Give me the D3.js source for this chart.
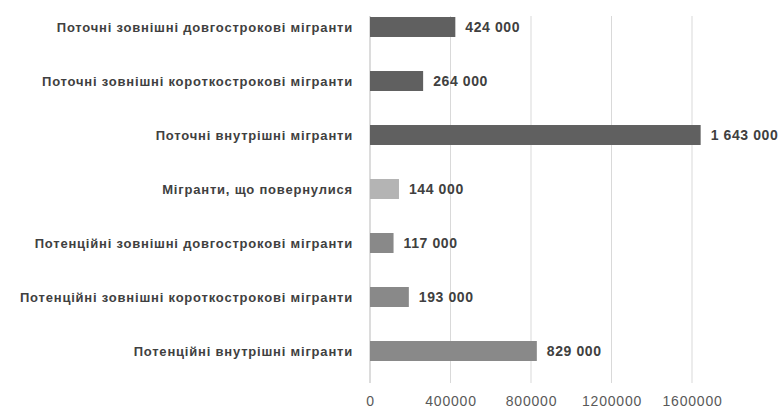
<!DOCTYPE html>
<html>
<head>
<meta charset="utf-8">
<script src="https://cdn.jsdelivr.net/npm/d3@7"></script>
<style>
  html, body { margin: 0; padding: 0; background: #ffffff; }
  #chart-container { width: 781px; height: 408px; overflow: hidden; }
  text { font-family: "Liberation Sans", Arial, sans-serif; }
</style>
</head>
<body>
<div id="chart-container"></div>
<script>
// Categories top to bottom
const categories = [
  "Поточні зовнішні довгострокові мігранти",
  "Поточні зовнішні короткострокові мігранти",
  "Поточні внутрішні мігранти",
  "Мігранти, що повернулися",
  "Потенційні зовнішні довгострокові мігранти",
  "Потенційні зовнішні короткострокові мігранти",
  "Потенційні внутрішні мігранти"
];
const values = [424000, 264000, 1643000, 144000, 117000, 193000, 829000];
const valueLabels = ["424 000", "264 000", "1 643 000", "144 000", "117 000", "193 000", "829 000"];
const groups = ["current", "current", "current", "returned", "potential", "potential", "potential"];
const xTicks = [0, 400000, 800000, 1200000, 1600000];

const colors = { current: "#606060", returned: "#b4b4b4", potential: "#898989" };

function drawChart() {
  d3.select("#chart-container").selectAll("*").remove();

  const W = 781, H = 408;
  const margin = { top: 0, left: 370 };

  const svg = d3.select("#chart-container")
    .append("svg")
    .attr("width", W)
    .attr("height", H);

  // x scale: 0 -> 370px, 400000 per ~80.5px
  const x = d3.scaleLinear()
    .domain([0, 1600000])
    .range([margin.left, margin.left + 322]);

  const y = d3.scaleBand()
    .domain(categories)
    .range([0, 378])
    .paddingInner(0.63)
    .paddingOuter(0.315);

  const gridTop = 16, gridBottom = 383;

  // vertical gridlines
  svg.selectAll(".grid")
    .data(xTicks.slice(1))
    .join("line")
    .attr("x1", d => x(d))
    .attr("x2", d => x(d))
    .attr("y1", gridTop)
    .attr("y2", gridBottom)
    .attr("stroke", "#d9d9d9")
    .attr("stroke-width", 1);

  // value axis line at zero
  svg.append("line")
    .attr("x1", x(0))
    .attr("x2", x(0))
    .attr("y1", gridTop)
    .attr("y2", gridBottom)
    .attr("stroke", "#d0d0d0")
    .attr("stroke-width", 1.5);

  // bars
  svg.selectAll(".bar")
    .data(values)
    .join("rect")
    .attr("x", x(0))
    .attr("y", (d, i) => y(categories[i]))
    .attr("width", d => x(d) - x(0))
    .attr("height", y.bandwidth())
    .attr("fill", (d, i) => colors[groups[i]]);

  // value labels
  svg.selectAll(".val")
    .data(values)
    .join("text")
    .attr("x", d => x(d) + 10)
    .attr("y", (d, i) => y(categories[i]) + y.bandwidth() / 2)
    .attr("dy", "0.35em")
    .attr("font-size", "14px")
    .attr("font-weight", "bold")
    .attr("letter-spacing", "0.6px")
    .attr("fill", "#404040")
    .text((d, i) => valueLabels[i]);

  // category labels
  svg.selectAll(".cat")
    .data(categories)
    .join("text")
    .attr("x", 353)
    .attr("y", d => y(d) + y.bandwidth() / 2)
    .attr("dy", "0.35em")
    .attr("text-anchor", "end")
    .attr("font-size", "13px")
    .attr("font-weight", "bold")
    .attr("letter-spacing", "0.8px")
    .attr("fill", "#404040")
    .text(d => d);

  // x axis tick labels
  svg.append("g")
    .attr("transform", `translate(0,${gridBottom})`)
    .call(d3.axisBottom(x)
      .tickValues(xTicks)
      .tickFormat(d => String(d))
      .tickSize(0)
      .tickPadding(13))
    .call(g => g.select(".domain").remove())
    .selectAll(".tick text")
    .attr("font-size", "14px")
    .attr("letter-spacing", "0.8px")
    .attr("font-family", "\"Liberation Sans\", Arial, sans-serif")
    .attr("fill", "#595959");
}

drawChart();
</script>
</body>
</html>
